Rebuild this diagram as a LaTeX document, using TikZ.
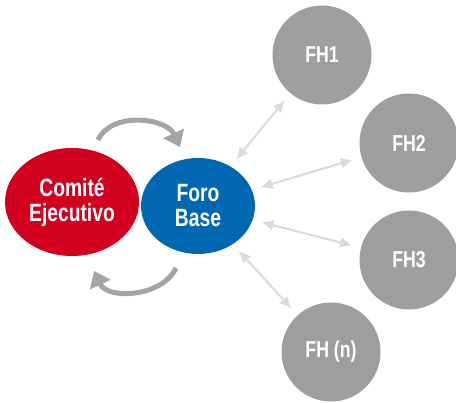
\documentclass[tikz,border=0pt]{standalone}
\usepackage{fontspec}
\setmainfont{Liberation Sans}[FakeStretch=0.77]
\usetikzlibrary{shapes, arrows.meta, calc}
\definecolor{rojo}{HTML}{D2001E}
\definecolor{azul}{HTML}{0068B2}
\definecolor{gris}{HTML}{9D9EA0}
\definecolor{grisclaro}{HTML}{D9DADB}
\definecolor{grisflecha}{HTML}{A3A4A6}

\begin{document}
\begin{tikzpicture}[x=1pt, y=1pt, >={Latex[length=12pt,width=11pt]}]
\tikzset{
  oval/.style={ellipse, inner sep=0pt, text=white, align=center,
    font=\fontsize{25}{25}\selectfont\bfseries},
  fh/.style={circle, fill=gris, minimum size=99pt, inner sep=0pt, text=white,
    font=\fontsize{23}{24}\selectfont\bfseries},
  enlace/.style={<->, grisclaro, line width=2pt, shorten <=9pt, shorten >=9pt},
  ciclo/.style={->, grisflecha, line width=5pt,
    >={Triangle[length=15pt,width=22pt]}}
}
\useasboundingbox (0, 0) rectangle (456, 403);
\node[oval, fill=rojo, minimum width=134pt, minimum height=108pt]
  at (72, 201) (CE) {Comité\\Ejecutivo};
\node[oval, fill=azul, minimum width=114pt, minimum height=96pt]
  at (198, 197) (FB) {Foro\\Base};
\node[fh] at (322, 348) (FH1) {FH1};
\node[fh] at (409, 260) (FH2) {FH2};
\node[fh] at (409, 143) (FH3) {FH3};
\node[fh] at (331, 51)  (FHn) {FH (n)};
% ciclo entre comite y foro
\coordinate (a1) at (98, 263);
\coordinate (a2) at (180, 256);
\coordinate (b1) at (176, 135);
\coordinate (b2) at (94, 132);
\path (a1) edge[ciclo, out=65, in=115] (a2);
\path (b1) edge[ciclo, out=245, in=295] (b2);
% foro con cada FH
\path (FB) edge[enlace] (FH1);
\path (FB) edge[enlace] (FH2);
\path (FB) edge[enlace] (FH3);
\path (FB) edge[enlace] (FHn);
\end{tikzpicture}
\end{document}
